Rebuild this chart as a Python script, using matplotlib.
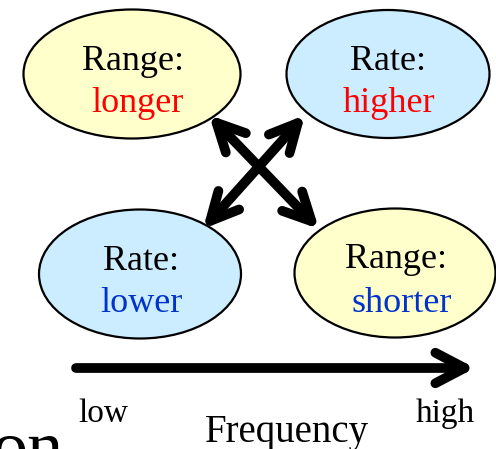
import matplotlib
matplotlib.use('Agg')
import matplotlib.pyplot as plt
from matplotlib.patches import Ellipse, FancyArrowPatch

# ── Contenido del diagrama ──────────────────────────────────────────────
titulos = ['Range:', 'Rate:', 'Rate:', 'Range:']
valores = ['longer', 'higher', 'lower', 'shorter']
color_valor = ['#FF0000', '#FF0000', '#0033CC', '#0033CC']
relleno = ['#FFFFCC', '#CCECFF', '#CCECFF', '#FFFFCC']

# centros (x, y) y tamaños en píxeles de la imagen
centros = [(132, 74), (388, 74), (140, 274), (395, 273)]
tamanos = [(217, 129), (203, 128), (202, 129), (201, 129)]
pos_titulo = [(133, 70), (388, 70), (141, 270), (396, 268)]
pos_valor = [(137, 112), (389, 112), (141, 312), (402, 312)]

# flechas cruzadas: (inicio, fin)
flechas = [((209, 115), (319, 229)), ((305, 115), (203, 229))]

eje_frecuencia = ((76, 368), (475, 368))
etiquetas_eje = ['low', 'Frequency', 'high']

SERIF = ['Liberation Serif', 'DejaVu Serif']

fig = plt.figure(figsize=(4.96, 4.49), dpi=100)
ax = fig.add_axes([0, 0, 1, 1])
ax.set_xlim(0, 496)
ax.set_ylim(449, 0)
ax.axis('off')

for (cx, cy), (w, h), fc in zip(centros, tamanos, relleno):
    ax.add_patch(Ellipse((cx, cy), w, h, facecolor=fc, edgecolor='black', lw=1.6))

for t, v, c, pt, pv in zip(titulos, valores, color_valor, pos_titulo, pos_valor):
    ax.text(pt[0], pt[1], t, family=SERIF, fontsize=26, ha='center', va='baseline')
    ax.text(pv[0], pv[1], v, family=SERIF, fontsize=26, ha='center', va='baseline', color=c)

# flechas dobles cruzadas
for ini, fin in flechas:
    ax.add_patch(FancyArrowPatch(ini, fin, arrowstyle='<->,head_length=20,head_width=10',
                                 lw=7, color='black', capstyle='round', joinstyle='round',
                                 mutation_scale=1, shrinkA=0, shrinkB=0))

# eje de frecuencia
ax.add_patch(FancyArrowPatch(eje_frecuencia[0], eje_frecuencia[1],
                             arrowstyle='->,head_length=21,head_width=11',
                             lw=7, color='black', capstyle='round', joinstyle='round',
                             mutation_scale=1, shrinkA=0, shrinkB=0))

ax.text(103, 422, etiquetas_eje[0], family=SERIF, fontsize=24, ha='center', va='baseline')
ax.text(287, 442, etiquetas_eje[1], family=SERIF, fontsize=28, ha='center', va='baseline')
ax.text(445, 422, etiquetas_eje[2], family=SERIF, fontsize=24, ha='center', va='baseline')

# texto cortado en la esquina inferior izquierda
ax.text(64, 470, 'on', family=SERIF, fontsize=52, ha='right', va='baseline')

fig.savefig('out.png', dpi=100)
